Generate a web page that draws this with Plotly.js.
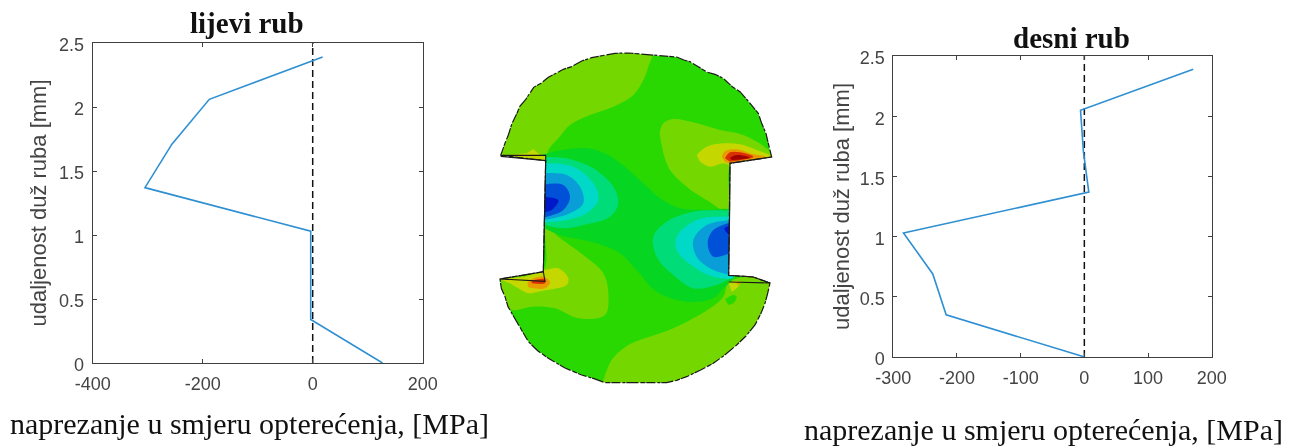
<!DOCTYPE html>
<html>
<head>
<meta charset="utf-8">
<script src="https://cdn.plot.ly/plotly-3.0.1.min.js"></script>
<style>
html,body{margin:0;padding:0;background:#fff}
#chart{width:1301px;height:446px;filter:blur(0.4px)}
</style>
</head>
<body>
<div id="chart"></div>
<script>
// ---- stress profiles along the edges ----
const leftStress = [127, -3.6, -3.6, -305, -256, -188, 18];
const leftDist   = [0, 0.34, 1.03, 1.37, 1.71, 2.06, 2.39];
const rightStress = [0.5, -217, -238, -284, 7, -1.5, -6, 171];
const rightDist   = [0, 0.35, 0.69, 1.03, 1.37, 1.71, 2.05, 2.39];
const zeroX = [0, 0];
const zeroY = [0, 2.5];
const leftXTicks = [-400, -200, 0, 200];
const rightXTicks = [-300, -200, -100, 0, 100, 200];
const yTicks = [0, 0.5, 1, 1.5, 2, 2.5];
const yTickLabels = ['0', '0.5', '1', '1.5', '2', '2.5'];

// ---- stress field map: specimen outline and iso-bands, read as [x,y] in map units ----
const outline = [[62,346],[68,326],[76,307],[85,285],[96,250],[110,222],[120,198],[136,180],[150,160],[161,142],[183,130],[205,112],[228,100],[250,88],[275,80],[305,63],[335,53],[370,47],[405,40],[445,39],[480,42],[515,44],[540,47],[590,51],[612,60],[630,65],[655,80],[680,96],[705,103],[730,115],[757,140],[780,155],[802,180],[820,200],[835,220],[845,250],[858,280],[865,310],[875,351],[750,370],[749,510],[746,706],[820,711],[870,729],[863,760],[855,790],[842,822],[825,855],[798,888],[770,915],[737,943],[700,970],[662,990],[620,1010],[590,1021],[560,1028],[375,1028],[342,1016],[305,1005],[255,984],[205,955],[173,932],[145,905],[122,866],[100,830],[84,800],[75,770],[64,745],[60,717],[190,695],[197,362]];
const innerEdges = [[62,346],[197,346],[197,362],[62,349],null,[60,717],[195,724],[190,695],[197,362],null,[60,717],[190,695],null,[746,726],[870,729],[820,711],[746,706],[749,510],[750,370],[875,351]];

const band7TopLeft = [[40,360],[197,360],[205,330],[235,295],[270,255],[330,225],[400,200],[460,165],[490,120],[505,80],[515,30],[40,30]];
const band7TopRight = [[540,290],[540,275],[550,250],[580,237],[640,247],[720,270],[790,285],[865,330],[885,360],[752,380],[748,515],[680,480],[620,440],[570,390],[550,340]];
const band7LowerLeft = [[40,700],[190,690],[197,555],[235,590],[310,645],[370,700],[385,760],[375,825],[295,835],[225,805],[155,800],[95,810],[50,780]];
const band7Bottom = [[365,1040],[395,960],[445,915],[480,900],[580,865],[690,805],[730,770],[748,725],[880,725],[880,1040]];
const band6Speck = [[735,778],[760,765],[770,770],[760,790],[745,795]];
const band5 = [[185,345],[245,330],[325,325],[385,345],[440,385],[490,430],[540,475],[600,505],[680,510],[760,515],[760,715],[730,745],[700,775],[620,785],[530,755],[470,690],[420,640],[350,610],[240,585],[185,560]];
const band4Left = [[185,350],[260,355],[340,385],[400,440],[415,490],[390,530],[310,555],[250,565],[185,552]];
const band3Left = [[185,370],[280,380],[340,430],[355,480],[320,520],[260,540],[185,547]];
const band2Left = [[185,400],[260,405],[300,440],[310,490],[270,520],[220,535],[185,540]];
const band1Left = [[185,435],[250,435],[270,470],[250,510],[200,530],[185,532]];
const band0Left = [[185,470],[235,480],[215,510],[185,517]];
const band4Right = [[760,512],[640,515],[560,545],[520,590],[530,650],[580,705],[640,745],[700,738],[760,712]];
const band3Right = [[760,530],[650,540],[590,590],[590,630],[640,680],[700,710],[760,716]];
const band2Right = [[760,540],[680,555],[640,600],[650,650],[700,690],[760,706]];
const band1Right = [[760,545],[700,570],[683,610],[700,650],[760,635]];
const band0Right = [[760,555],[733,565],[745,582],[760,585]];
const band8TopLeft = [[62,347],[140,340],[160,327],[180,345],[197,347],[197,362]];
const band8Right = [[650,345],[680,320],[730,310],[780,313],[830,330],[880,353],[750,375],[730,370],[690,380],[660,365]];
const band9Right = [[725,350],[735,333],[770,328],[810,340],[870,355],[750,370],[735,365]];
const band10Right = [[735,355],[750,337],[780,337],[820,350],[750,365]];
const band11Right = [[750,353],[770,345],[810,353],[755,360]];
const band8Lower = [[55,716],[135,710],[195,690],[235,685],[265,715],[260,735],[230,745],[175,755],[145,760],[115,745],[90,730]];
const band9Lower = [[142,730],[150,720],[190,710],[210,725],[195,745],[145,742]];
const band10Lower = [[155,722],[195,718],[195,730],[155,730]];
const band8Corner = [[745,725],[780,725],[770,745],[755,755]];
const band9Corner = [[768,726],[782,726],[775,736]];

const palette = {
  b0:'#0018c8', b1:'#0050d8', b2:'#0a9ed8', b3:'#00d8c8', b4:'#00dc78', b5:'#06d622',
  b6:'#28d800', b7:'#74d800', b8:'#c4d800', b9:'#e89a00', b10:'#d83000', b11:'#a00000'
};

const mapAxes = {xaxis:'x3', yaxis:'y3'};
const band = (pts, color, straight) => Object.assign({
  type:'scatter', mode:'lines', hoverinfo:'skip', showlegend:false,
  x: pts.map(p => p && p[0]), y: pts.map(p => p && p[1]),
  fill:'toself', fillcolor:color,
  line: straight ? {width:0, color:color} : {width:0, color:color, shape:'spline', smoothing:1}
}, mapAxes);

const closed = outline.concat([outline[0]]);
const frame = [[0,0],[930,0],[930,1050],[0,1050],[0,0]];
const maskPts = frame.concat(closed.slice().reverse()).concat([[0,0]]);
const mask = {type:'scatter', mode:'lines', hoverinfo:'skip', showlegend:false,
  x:maskPts.map(p=>p[0]), y:maskPts.map(p=>p[1]), fill:'toself', fillcolor:'#ffffff',
  line:{width:0,color:'#ffffff'}, xaxis:'x3', yaxis:'y3'};
const edge = (pts, dash, width) => ({type:'scatter', mode:'lines', hoverinfo:'skip', showlegend:false,
  x:pts.map(p=>p&&p[0]), y:pts.map(p=>p&&p[1]), line:{color:'#1a1a1a', width:width, dash:dash},
  connectgaps:false, xaxis:'x3', yaxis:'y3'});

const mapTraces = [
  band(closed, palette.b6, true),
  band(band7TopLeft, palette.b7), band(band7TopRight, palette.b7),
  band(band7LowerLeft, palette.b7), band(band7Bottom, palette.b7), band(band6Speck, palette.b6),
  band(band5, palette.b5),
  band(band4Left, palette.b4), band(band3Left, palette.b3), band(band2Left, palette.b2),
  band(band1Left, palette.b1), band(band0Left, palette.b0),
  band(band4Right, palette.b4), band(band3Right, palette.b3), band(band2Right, palette.b2),
  band(band1Right, palette.b1), band(band0Right, palette.b0),
  band(band8TopLeft, palette.b8, true),
  band(band8Right, palette.b8), band(band9Right, palette.b9), band(band10Right, palette.b10), band(band11Right, palette.b11),
  band(band8Lower, palette.b8), band(band9Lower, palette.b9), band(band10Lower, palette.b10),
  band(band8Corner, palette.b8), band(band9Corner, palette.b9),
  mask, edge(closed, '9px,1px,5px,2px,12px,1px,3px,2px', 1.2), edge(innerEdges, 'solid', 1.1)
];

const profile = (x,y,xa,ya) => ({type:'scatter', mode:'lines', x, y, xaxis:xa, yaxis:ya, showlegend:false,
  line:{color:'#2e8fd2', width:1.6}});
const zero = (xa,ya) => ({type:'scatter', mode:'lines', x:zeroX, y:zeroY, xaxis:xa, yaxis:ya, showlegend:false,
  line:{color:'#111111', width:1.5, dash:'7px,4px'}});

const W = 1301, H = 446;
const tickFont = {family:'"Liberation Sans", Arial, sans-serif', size:18, color:'#444444'};
const axisBase = {showgrid:false, zeroline:false, showline:true, mirror:'ticks', linecolor:'#404040', linewidth:1,
  ticks:'inside', ticklen:4, tickcolor:'#404040', tickwidth:1, tickfont:tickFont, ticklabelstandoff:4};
const yTitleFont = {family:'"Liberation Sans", Arial, sans-serif', size:22, color:'#444444'};
const serif = {family:'"Liberation Serif", "Times New Roman", serif', color:'#111111'};
const label = (text, px, py, size, bold) => ({text: bold ? '<b>'+text+'</b>' : text, xref:'paper', yref:'paper',
  x:px/W, y:1-py/H, xanchor:'center', yanchor:'middle', showarrow:false, font:Object.assign({size}, serif)});

const layout = {
  width:W, height:H, margin:{l:0,r:0,t:0,b:0}, paper_bgcolor:'#ffffff', plot_bgcolor:'#ffffff', showlegend:false,
  xaxis:Object.assign({}, axisBase, {domain:[92.7/W,422.7/W], range:[-400,200], tickvals:leftXTicks, ticktext:leftXTicks.map(String), anchor:'y'}),
  yaxis:Object.assign({}, axisBase, {domain:[1-363/H,1-43/H], range:[0,2.5], tickvals:yTicks, ticktext:yTickLabels, anchor:'x', ticklabelshift:2,
    title:{text:'udaljenost duž ruba [mm]', font:yTitleFont, standoff:6}}),
  xaxis2:Object.assign({}, axisBase, {domain:[893.3/W,1211.7/W], range:[-300,200], tickvals:rightXTicks, ticktext:rightXTicks.map(String), anchor:'y2'}),
  yaxis2:Object.assign({}, axisBase, {domain:[1-357/H,1-56/H], range:[0,2.5], tickvals:yTicks, ticktext:yTickLabels, anchor:'x2', ticklabelshift:2,
    title:{text:'udaljenost duž ruba [mm]', font:yTitleFont, standoff:3}}),
  xaxis3:{domain:[480/W,790/W], range:[0,930], visible:false, anchor:'y3', fixedrange:true},
  yaxis3:{domain:[1-390/H,1-40/H], range:[1050,0], visible:false, anchor:'x3', fixedrange:true},
  annotations:[
    label('lijevi rub', 247, 23, 29, true),
    label('desni rub', 1071, 38, 29, true),
    label('naprezanje u smjeru opterećenja, [MPa]', 249, 423, 30, false),
    label('naprezanje u smjeru opterećenja, [MPa]', 1043, 429, 30, false)
  ]
};

Plotly.newPlot('chart', mapTraces.concat([
  zero('x','y'), profile(leftStress,leftDist,'x','y'),
  zero('x2','y2'), profile(rightStress,rightDist,'x2','y2')
]), layout, {displayModeBar:false, staticPlot:true});
</script>
</body>
</html>
